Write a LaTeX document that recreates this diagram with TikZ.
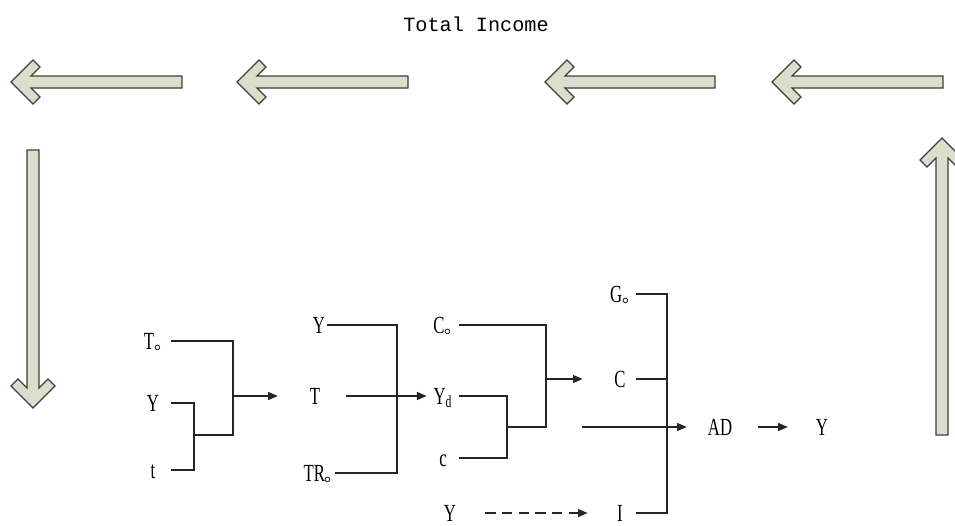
\documentclass[tikz,border=0pt]{standalone}
\usepackage{fontspec}
\newfontfamily\varfont{Liberation Serif}[FakeStretch=0.68]
\newfontfamily\incomefont{Liberation Mono}
\newfontfamily\cjk{Noto Sans CJK SC}
\usepackage{tikz}
\usetikzlibrary{
  arrows.meta,
  positioning
}
\usepackage{xcolor}
\definecolor{arrowfill}{HTML}{DCDDCA}
\definecolor{arrowedge}{HTML}{3E3E3E}
\definecolor{linecol}{HTML}{262626}
\newcommand{\stopmark}{{\cjk\fontsize{10}{10}\selectfont 。}\kern-5.5pt}
\tikzset{
  blockarrow/.style={draw=arrowedge, fill=arrowfill, line width=0.65pt},
  pics/fatarrow/.style={code={
    \draw[blockarrow] (0,0) -- (22,-22) -- (29,-15) -- (20,-6) -- (#1,-6)
      -- (#1,6) -- (20,6) -- (29,15) -- (22,22) -- cycle;
  }},
  var/.style={inner sep=1pt, text height=9.2pt, text depth=0pt,
    font=\varfont\fontsize{14}{16}\selectfont},
  link/.style={line width=0.75pt, draw=linecol},
  arrow/.style={link, -{Triangle[length=5.5pt, width=4.5pt]}},
  dasharrow/.style={arrow, dash pattern=on 6pt off 3.5pt},
}

\begin{document}
\begin{tikzpicture}[
  x=0.02cm, y=-0.02cm,
  col/.style={var, minimum width=#1},
]
\useasboundingbox (0,0) rectangle (955,525);

% Income circuit
\node[font=\incomefont\fontsize{11.5}{13}\selectfont] (income) at (476,24) {Total Income};
\pic at (11,82) {fatarrow=171};
\pic at (237,82) {fatarrow=171};
\pic at (545,82) {fatarrow=170};
\pic at (772,82) {fatarrow=171};
\pic[rotate=90] at (33,408) {fatarrow=258};
\pic[rotate=-90] at (942,138) {fatarrow=297};

% Taxes
\node[col=0.72cm] (tax0) at (153,341) {T\stopmark};
\node[col=0.72cm] (ytax) at (153,403) {Y};
\node[col=0.72cm] (rate) at (153,470) {t};
\coordinate (ratej) at (194,435);
\coordinate (taxj) at (233,396);
\node[var] (tax) at (315,396) {T};

% Disposable income
\node[var, anchor=east] (yinc) at (327,325) {Y};
\node[var, anchor=east] (transfer) at (335,473) {TR\stopmark};
\coordinate (dispj) at (397,396);

% Consumption
\node[col=0.64cm] (cons0) at (443,325) {C\stopmark};
\node[col=0.64cm] (ydisp) at (443,396) {Y\textsubscript{d}};
\node[col=0.64cm] (mpc) at (443,458) {c};
\coordinate (mpcj) at (507,427);
\coordinate (consj) at (546,379);

% Aggregate demand
\node[col=0.64cm] (gov) at (620,294) {G\stopmark};
\node[col=0.64cm] (cons) at (620,379) {C};
\node[col=0.64cm] (inv) at (620,513) {I};
\node[var] (yinv) at (450,513) {Y};
\coordinate (adj) at (667,427);
\coordinate (adin) at (582,427);
\node[var] (ad) at (720,427) {AD};
\node[var] (output) at (822,427) {Y};

% Brackets
\draw[link] (ytax.east) -| (ratej) |- (rate.east);
\draw[link] (tax0.east) -| (taxj) |- (ratej);
\draw[link] (yinc.east) -| (dispj) |- (transfer.east);
\draw[link] (ydisp.east) -| (mpcj) |- (mpc.east);
\draw[link] (cons0.east) -| (consj) |- (mpcj);
\draw[link] (gov.east) -| (adj) |- (inv.east);
\draw[link] (cons.east) -- (cons.east -| adj);

% Arrows
\draw[arrow, shorten >=0.6cm] (taxj) -- (tax);
\draw[arrow, shorten <=0.48cm] (tax) -- (ydisp);
\draw[arrow, shorten >=0.42cm] (consj) -- (cons);
\draw[arrow, shorten >=0.38cm] (adin) -- (ad);
\draw[arrow, shorten <=0.48cm, shorten >=0.52cm] (ad) -- (output);
\draw[dasharrow, shorten <=0.54cm, shorten >=0.32cm] (yinv) -- (inv);

\end{tikzpicture}
\end{document}
